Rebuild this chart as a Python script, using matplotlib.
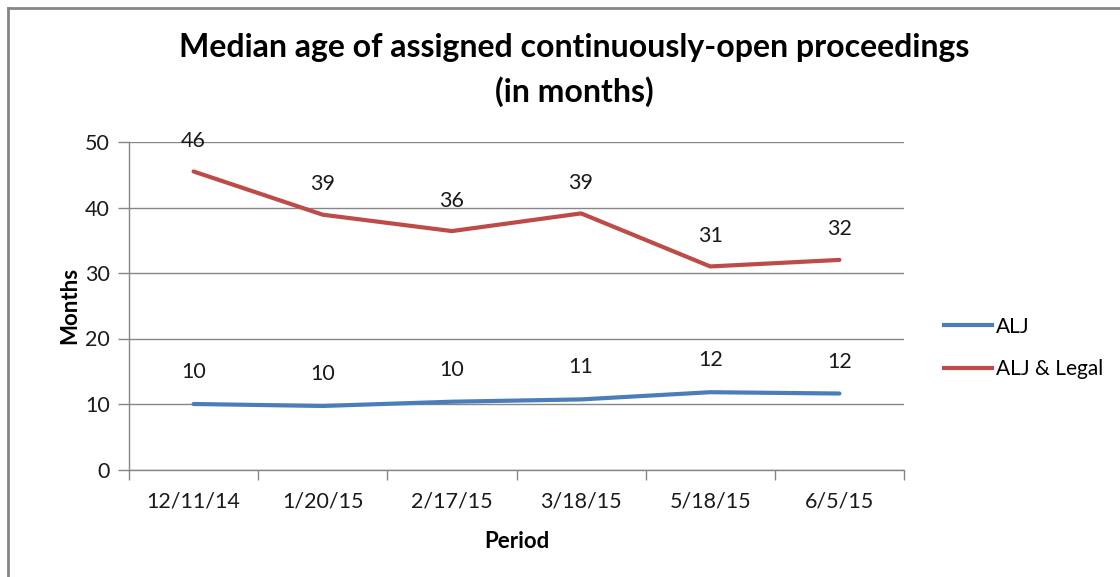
import matplotlib
matplotlib.use("Agg")
import matplotlib.pyplot as plt
from matplotlib.lines import Line2D

periods = ["12/11/14", "1/20/15", "2/17/15", "3/18/15", "5/18/15", "6/5/15"]
alj = [10.0, 9.7, 10.35, 10.7, 11.8, 11.6]
alj_legal = [45.5, 38.9, 36.4, 39.1, 31.0, 32.0]
alj_labels = ["10", "10", "10", "11", "12", "12"]
legal_labels = ["46", "39", "36", "39", "31", "32"]
yticks = [0, 10, 20, 30, 40, 50]

plt.rcParams['font.family'] = ['Lato', 'DejaVu Sans']

fig = plt.figure(figsize=(11.2, 5.77), dpi=100)
ax = fig.add_axes([129/1120, 1-469.5/577, (904-129)/1120, (469.5-142)/577])

gray = "#868686"
blue = "#4A7EBB"
red = "#BE4B48"
txt = "#1a1a1a"
fs = 15.5

x = list(range(len(periods)))
ax.plot(x, alj, color=blue, lw=3, solid_capstyle='round', label="ALJ", zorder=3)
ax.plot(x, alj_legal, color=red, lw=3, solid_capstyle='round', label="ALJ & Legal", zorder=3)

for xi, v, t in zip(x, alj, alj_labels):
    ax.annotate(t, (xi, v), xytext=(0, 23), textcoords='offset points',
                ha='center', va='center', fontsize=fs, color=txt)
for xi, v, t in zip(x, alj_legal, legal_labels):
    ax.annotate(t, (xi, v), xytext=(0, 22), textcoords='offset points',
                ha='center', va='center', fontsize=fs, color=txt)

ax.set_xlim(-0.5, len(periods) - 0.5)
ax.set_ylim(0, 50)
ax.set_yticks(yticks)
ax.set_yticklabels([str(t) for t in yticks], fontsize=fs, color=txt)
ax.yaxis.grid(True, color=gray, lw=1)
ax.set_axisbelow(True)

ax.set_xticks([i - 0.5 for i in range(len(periods) + 1)])
ax.set_xticklabels([])
ax.set_xticks(x, minor=True)
ax.set_xticklabels(periods, minor=True, fontsize=fs, color=txt)
ax.tick_params(axis='x', which='major', length=7, color=gray, width=1)
ax.tick_params(axis='x', which='minor', length=0, pad=16)
ax.tick_params(axis='y', length=8, color=gray, width=1, pad=6)

for s in ['top', 'right']:
    ax.spines[s].set_visible(False)
for s in ['left', 'bottom']:
    ax.spines[s].set_color(gray)
    ax.spines[s].set_linewidth(1)

ax.set_xlabel("Period", fontsize=16, fontweight='bold', labelpad=14)
ax.set_ylabel("Months", fontsize=16, fontweight='bold', labelpad=3)

fig.text(574/1120, 1-48/577, "Median age of assigned continuously-open proceedings",
         ha='center', va='center', fontsize=23, fontweight='bold')
fig.text(574/1120, 1-92/577, "(in months)",
         ha='center', va='center', fontsize=23, fontweight='bold')

handles = [Line2D([], [], color=blue, lw=3), Line2D([], [], color=red, lw=3)]
fig.legend(handles, ["ALJ", "ALJ & Legal"], loc='center left',
           bbox_to_anchor=(925/1120, 1-348/577), frameon=False, fontsize=15,
           handlelength=2.3, handletextpad=0.2, labelspacing=1.1)

# chart-area border (top and left visible)
fig.add_artist(Line2D([8/1120, 1], [1-8/577, 1-8/577], color=gray, lw=2, transform=fig.transFigure))
fig.add_artist(Line2D([8/1120, 8/1120], [0, 1-8/577], color=gray, lw=2, transform=fig.transFigure))

fig.savefig("out.png", dpi=100)
